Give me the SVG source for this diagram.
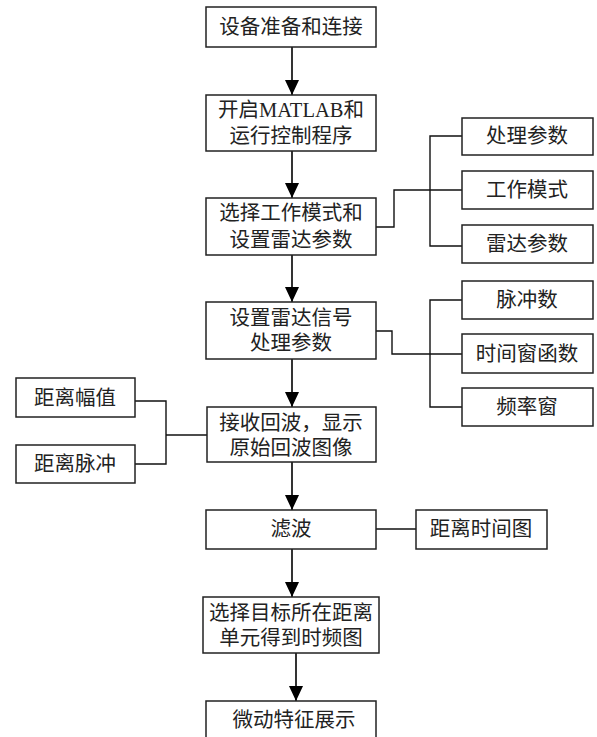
<svg xmlns="http://www.w3.org/2000/svg" width="597" height="737" viewBox="0 0 597 737">
<defs>
<marker id="ah" markerWidth="15" markerHeight="14" refX="15" refY="7" orient="auto" markerUnits="userSpaceOnUse" viewBox="0 0 15 14">
<path d="M0,0 L15,7 L0,14 Z" fill="#000"/>
</marker>
<style>
rect{fill:#fff;stroke:#222;stroke-width:1.5}
text{font-family:"Liberation Serif","Noto Sans CJK SC",serif;font-size:20.5px;fill:#222;text-anchor:middle;dominant-baseline:central}
.c{fill:none;stroke:#111;stroke-width:1.4}
.a{fill:none;stroke:#000;stroke-width:1.6}
</style>
</defs>
<rect x="0" y="0" width="597" height="737" style="fill:#fff;stroke:none"/>
<g id="connectors">
<line class="a" x1="292" y1="47" x2="292" y2="95" marker-end="url(#ah)"/>
<line class="a" x1="292" y1="151" x2="292" y2="198" marker-end="url(#ah)"/>
<line class="a" x1="292" y1="255" x2="292" y2="302" marker-end="url(#ah)"/>
<line class="a" x1="292" y1="359" x2="292" y2="407" marker-end="url(#ah)"/>
<line class="a" x1="292" y1="462" x2="292" y2="510" marker-end="url(#ah)"/>
<line class="a" x1="292" y1="549" x2="292" y2="597" marker-end="url(#ah)"/>
<line class="a" x1="296" y1="653" x2="296" y2="701" marker-end="url(#ah)"/>
<polyline class="c" points="376,227 394,227 394,190 462,190"/>
<polyline class="c" points="462,136 430,136 430,246 462,246"/>
<polyline class="c" points="376,331 392,331 392,354 462,354"/>
<polyline class="c" points="462,300 430,300 430,407 462,407"/>
<polyline class="c" points="135,401 166,401 166,464 135,464"/>
<line class="c" x1="166" y1="435" x2="207" y2="435"/>
<line class="c" x1="376" y1="529" x2="416" y2="529"/>
</g>
<g id="n1"><rect x="206" y="7" width="170" height="40"/><text x="291" y="27">设备准备和连接</text></g>
<g id="n2"><rect x="206" y="95" width="170" height="56"/><text x="291" y="110">开启MATLAB和</text><text x="291" y="136">运行控制程序</text></g>
<g id="n3"><rect x="206" y="198" width="170" height="57"/><text x="291" y="213">选择工作模式和</text><text x="291" y="240">设置雷达参数</text></g>
<g id="n4"><rect x="206" y="302" width="170" height="57"/><text x="291" y="318">设置雷达信号</text><text x="291" y="343">处理参数</text></g>
<g id="n5"><rect x="207" y="407" width="169" height="55"/><text x="291" y="423">接收回波，显示</text><text x="291" y="448">原始回波图像</text></g>
<g id="n6"><rect x="206" y="510" width="170" height="39"/><text x="291" y="529">滤波</text></g>
<g id="n7"><rect x="203" y="597" width="176" height="56"/><text x="291" y="613">选择目标所在距离</text><text x="291" y="638">单元得到时频图</text></g>
<g id="n8"><rect x="206" y="701" width="170" height="60"/><text x="294" y="720">微动特征展示</text></g>
<g id="r1"><rect x="462" y="118" width="131" height="37"/><text x="527" y="136">处理参数</text></g>
<g id="r2"><rect x="462" y="171" width="131" height="38"/><text x="527" y="190">工作模式</text></g>
<g id="r3"><rect x="462" y="225" width="131" height="38"/><text x="527" y="244">雷达参数</text></g>
<g id="r4"><rect x="462" y="281" width="131" height="38"/><text x="527" y="300">脉冲数</text></g>
<g id="r5"><rect x="462" y="334" width="131" height="39"/><text x="527" y="354">时间窗函数</text></g>
<g id="r6"><rect x="462" y="388" width="131" height="38"/><text x="527" y="407">频率窗</text></g>
<g id="l1"><rect x="16" y="378" width="119" height="39"/><text x="75" y="398">距离幅值</text></g>
<g id="l2"><rect x="16" y="445" width="119" height="38"/><text x="75" y="464">距离脉冲</text></g>
<g id="r7"><rect x="416" y="510" width="131" height="39"/><text x="481" y="529">距离时间图</text></g>
</svg>
